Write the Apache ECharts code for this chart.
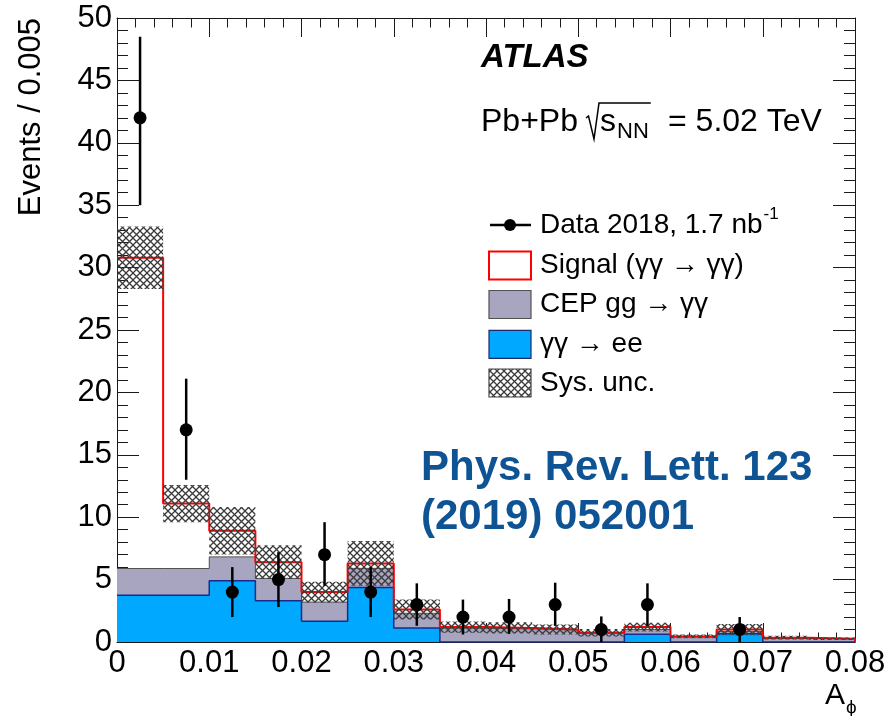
<!DOCTYPE html>
<html>
<head>
<meta charset="utf-8">
<script src="https://cdn.jsdelivr.net/npm/echarts@6/dist/echarts.min.js"></script>
<style>
  html, body { margin: 0; padding: 0; background: #ffffff; }
  #chart { width: 889px; height: 716px; }
</style>
</head>
<body>
<div id="chart"></div>
<script>
// A_phi binning: 16 bins of width 0.005 between 0 and 0.08
const binWidth = 0.005;
const binLowEdges = [0, 0.005, 0.01, 0.015, 0.02, 0.025, 0.03, 0.035,
                     0.04, 0.045, 0.05, 0.055, 0.06, 0.065, 0.07, 0.075];

// Expected yields per bin (stacked: gamma gamma -> ee, then CEP, then signal)
const eeYield     = [3.75, 3.75, 4.9, 3.3, 1.66, 4.36, 1.12, 0, 0, 0, 0, 0.62, 0, 0.67, 0, 0];
const cepYield    = [2.14, 2.14, 1.92, 1.8, 1.54, 1.54, 1.18, 1.1, 1.05, 0.95, 0.7, 0.38, 0.4, 0.18, 0.3, 0.25];
const signalYield = [24.9, 5.2, 2.1, 1.3, 0.8, 0.4, 0.3, 0.1, 0.08, 0.05, 0.05, 0.2, 0.05, 0.15, 0.05, 0.02];

// Systematic uncertainty on the total prediction
const sysUnc = [2.5, 1.5, 1.9, 1.35, 0.83, 1.8, 0.8, 0.45, 0.45, 0.4, 0.3, 0.35, 0.15, 0.45, 0.15, 0.1];

// Observed events (null = empty bin) with statistical errors
const dataCounts  = [42, 17, 4, 5, 7, 4, 3, 2, 2, 3, 1, 3, null, 1, null, null];
const dataErrLow  = [7.0, 4.0, 2.0, 2.2, 2.5, 2.0, 1.7, 1.4, 1.35, 1.7, 1.0, 1.7, null, 1.0, null, null];
const dataErrHigh = [6.5, 4.1, 2.0, 2.2, 2.6, 2.0, 1.7, 1.4, 1.45, 1.75, 1.05, 1.7, null, 1.0, null, null];

// Axis ranges and tick spacing
const xRange = [0, 0.08], xStep = 0.01;
const yRange = [0, 50],   yStep = 5;

const FONT = '"Liberation Sans", Arial, Helvetica, sans-serif';
const C_EE = '#00a8ff', C_CEP = '#a8a5c0', C_SIG = '#ff0000', C_PUB = '#0e5494';

// ---- derived stacks ----
const nBins = binLowEdges.length;
const eeTop  = eeYield.slice();
const cepTop = eeYield.map((v, i) => v + cepYield[i]);
const total  = cepTop.map((v, i) => v + signalYield[i]);

function stepPoints(values) {
  const pts = values.map((v, i) => [binLowEdges[i], v]);
  pts.push([binLowEdges[nBins - 1] + binWidth, values[nBins - 1]]);
  return pts;
}

// cross-hatch tile for the uncertainty band
function hatchTile() {
  const s = 7;
  const c = document.createElement('canvas');
  c.width = s; c.height = s;
  const g = c.getContext('2d');
  g.strokeStyle = '#3a3a3a';
  g.lineWidth = 1.3;
  g.beginPath();
  g.moveTo(-1, -1); g.lineTo(s + 1, s + 1);
  g.moveTo(s + 1, -1); g.lineTo(-1, s + 1);
  g.stroke();
  return c;
}
const hatch = { image: hatchTile(), repeat: 'repeat' };

const mctx = document.createElement('canvas').getContext('2d');
function textWidth(txt, size, weight, style) {
  mctx.font = (style || 'normal') + ' ' + (weight || 'normal') + ' ' + size + 'px ' + FONT;
  return mctx.measureText(txt).width;
}

const bandData = binLowEdges.map((lo, i) => [lo, lo + binWidth, total[i] - sysUnc[i], total[i] + sysUnc[i]]);
const pointData = [];
dataCounts.forEach((v, i) => {
  if (v !== null) pointData.push([binLowEdges[i] + binWidth / 2, v, dataErrLow[i], dataErrHigh[i]]);
});

const axisColor = '#1a1a1a';
function xAxisDef(pos, showLabel) {
  return {
    type: 'value', position: pos, min: xRange[0], max: xRange[1], interval: xStep,
    axisLine: { show: true, onZero: false, lineStyle: { color: axisColor, width: 1 } },
    axisTick: { show: true, inside: true, length: 19, lineStyle: { color: axisColor } },
    minorTick: { show: true, splitNumber: 5, length: 9.5, lineStyle: { color: axisColor } },
    splitLine: { show: false },
    axisLabel: {
      show: showLabel, fontSize: 31, color: '#000', fontFamily: FONT, margin: 6,
      formatter: v => (v === 0 ? '0' : v.toFixed(2))
    }
  };
}
function yAxisDef(pos, showLabel) {
  return {
    type: 'value', position: pos, min: yRange[0], max: yRange[1], interval: yStep,
    axisLine: { show: true, onZero: false, lineStyle: { color: axisColor, width: 1 } },
    axisTick: { show: true, inside: true, length: 22, lineStyle: { color: axisColor } },
    minorTick: { show: true, splitNumber: 5, length: 11, lineStyle: { color: axisColor } },
    splitLine: { show: false },
    axisLabel: { show: showLabel, fontSize: 31, color: '#000', fontFamily: FONT, margin: 5 }
  };
}

// ---- annotation text and legend ----
const graphics = [];
function addText(txt, x, y, size, opts) {
  opts = opts || {};
  graphics.push({
    type: 'text', x: x, y: y, rotation: opts.rotation || 0, z: 100,
    style: {
      text: txt, fontSize: size, fontFamily: FONT,
      fontWeight: opts.weight || 'normal', fontStyle: opts.style || 'normal',
      fill: opts.color || '#000',
      align: opts.align || 'left', verticalAlign: opts.valign || 'middle',
      textAlign: opts.align || 'left', textVerticalAlign: opts.valign || 'middle'
    }
  });
}

// axis titles
addText('Events / 0.005', 31, 18, 31, { align: 'right', rotation: Math.PI / 2 });
addText('A', 845, 696, 30, { align: 'right' });
addText('\u03d5', 846, 708, 19);

// experiment label
addText('ATLAS', 481, 57.5, 33, { weight: 'bold', style: 'italic' });
const ppSize = 32, ppMid = 122;
addText('Pb+Pb', 481, ppMid, ppSize);
const radX = 586;
const sX = 600;
const nnX = sX + textWidth('s', ppSize) + 1;
const nnW = textWidth('NN', 22);
graphics.push({
  type: 'polyline', z: 100,
  shape: { points: [[radX, ppMid - 4], [radX + 2.5, ppMid - 6], [radX + 8, ppMid + 17], [radX + 13, ppMid - 19], [nnX + nnW + 2, ppMid - 19]] },
  style: { stroke: '#000', lineWidth: 1.5, fill: null }
});
addText('s', sX, ppMid, ppSize);
addText('NN', nnX, ppMid + 10, 22);
addText('= 5.02 TeV', 668, ppMid, ppSize);

// publication reference
addText('Phys. Rev. Lett. 123', 421, 468.5, 42, { weight: 'bold', color: C_PUB });
addText('(2019) 052001', 421, 517, 42, { weight: 'bold', color: C_PUB });

// legend
const legX = 489, boxW = 42, boxH = 28, legTextX = 540, legSize = 28;
const legRows = [225, 265.5, 304.5, 344.3, 383];
graphics.push({ type: 'line', z: 100, shape: { x1: legX + 1, y1: legRows[0], x2: legX + boxW, y2: legRows[0] },
  style: { stroke: '#000', lineWidth: 2.5 } });
graphics.push({ type: 'circle', z: 101, shape: { cx: legX + boxW / 2, cy: legRows[0], r: 6 }, style: { fill: '#000' } });
const dataLbl = 'Data 2018, 1.7 nb';
addText(dataLbl, legTextX, legRows[0], legSize);
addText('-1', legTextX + textWidth(dataLbl, legSize) + 1, legRows[0] - 11, 17);

const boxes = [
  { fill: '#ffffff', stroke: C_SIG, lw: 2, label: 'Signal (\u03b3\u03b3 \u2192 \u03b3\u03b3)' },
  { fill: C_CEP, stroke: '#505050', lw: 1.2, label: 'CEP gg \u2192 \u03b3\u03b3' },
  { fill: C_EE, stroke: '#1a2a6a', lw: 1.2, label: '\u03b3\u03b3 \u2192 ee' },
  { fill: hatch, stroke: '#444', lw: 1.2, label: 'Sys. unc.' }
];
boxes.forEach((b, k) => {
  const cy = legRows[k + 1];
  graphics.push({ type: 'rect', z: 100, shape: { x: legX, y: cy - boxH / 2, width: boxW, height: boxH },
    style: { fill: b.fill, stroke: b.stroke, lineWidth: b.lw } });
  addText(b.label, legTextX, cy, legSize);
});

const chart = echarts.init(document.getElementById('chart'), null, { renderer: 'canvas' });
chart.setOption({
  animation: false,
  backgroundColor: '#ffffff',
  textStyle: { fontFamily: FONT },
  grid: { left: 117, right: 34, top: 18, bottom: 74, containLabel: false, outerBoundsMode: 'none' },
  xAxis: [xAxisDef('bottom', true), xAxisDef('top', false)],
  yAxis: [yAxisDef('left', true), yAxisDef('right', false)],
  series: [
    {
      name: 'CEP', type: 'line', step: 'end', data: stepPoints(cepTop), symbol: 'none', z: 2,
      lineStyle: { color: '#505050', width: 1 }, areaStyle: { color: C_CEP, opacity: 1 }
    },
    {
      name: 'ee', type: 'line', step: 'end', data: stepPoints(eeTop), symbol: 'none', z: 3,
      lineStyle: { color: '#1a2a8a', width: 1.5 }, areaStyle: { color: C_EE, opacity: 1 }
    },
    {
      name: 'Signal', type: 'line', step: 'end', symbol: 'none', z: 4,
      data: stepPoints(total).concat([[xRange[1], 0]]),
      lineStyle: { color: C_SIG, width: 2 }
    },
    {
      name: 'Sys', type: 'custom', z: 5, data: bandData, encode: { x: [0, 1], y: [2, 3] },
      renderItem: (params, api) => {
        const a = api.coord([api.value(0), api.value(3)]);
        const b = api.coord([api.value(1), api.value(2)]);
        return { type: 'rect', shape: { x: a[0], y: a[1], width: b[0] - a[0], height: b[1] - a[1] },
                 style: { fill: hatch } };
      }
    },
    {
      name: 'Data', type: 'custom', z: 6, data: pointData, encode: { x: 0, y: 1 },
      renderItem: (params, api) => {
        const x = api.value(0), y = api.value(1);
        const c = api.coord([x, y]);
        const lo = api.coord([x, y - api.value(2)]);
        const hi = api.coord([x, y + api.value(3)]);
        return { type: 'group', children: [
          { type: 'line', shape: { x1: c[0], y1: lo[1], x2: c[0], y2: hi[1] }, style: { stroke: '#000', lineWidth: 2.5 } },
          { type: 'circle', shape: { cx: c[0], cy: c[1], r: 6.5 }, style: { fill: '#000' } }
        ] };
      }
    }
  ],
  graphic: { elements: graphics }
});
</script>
</body>
</html>
